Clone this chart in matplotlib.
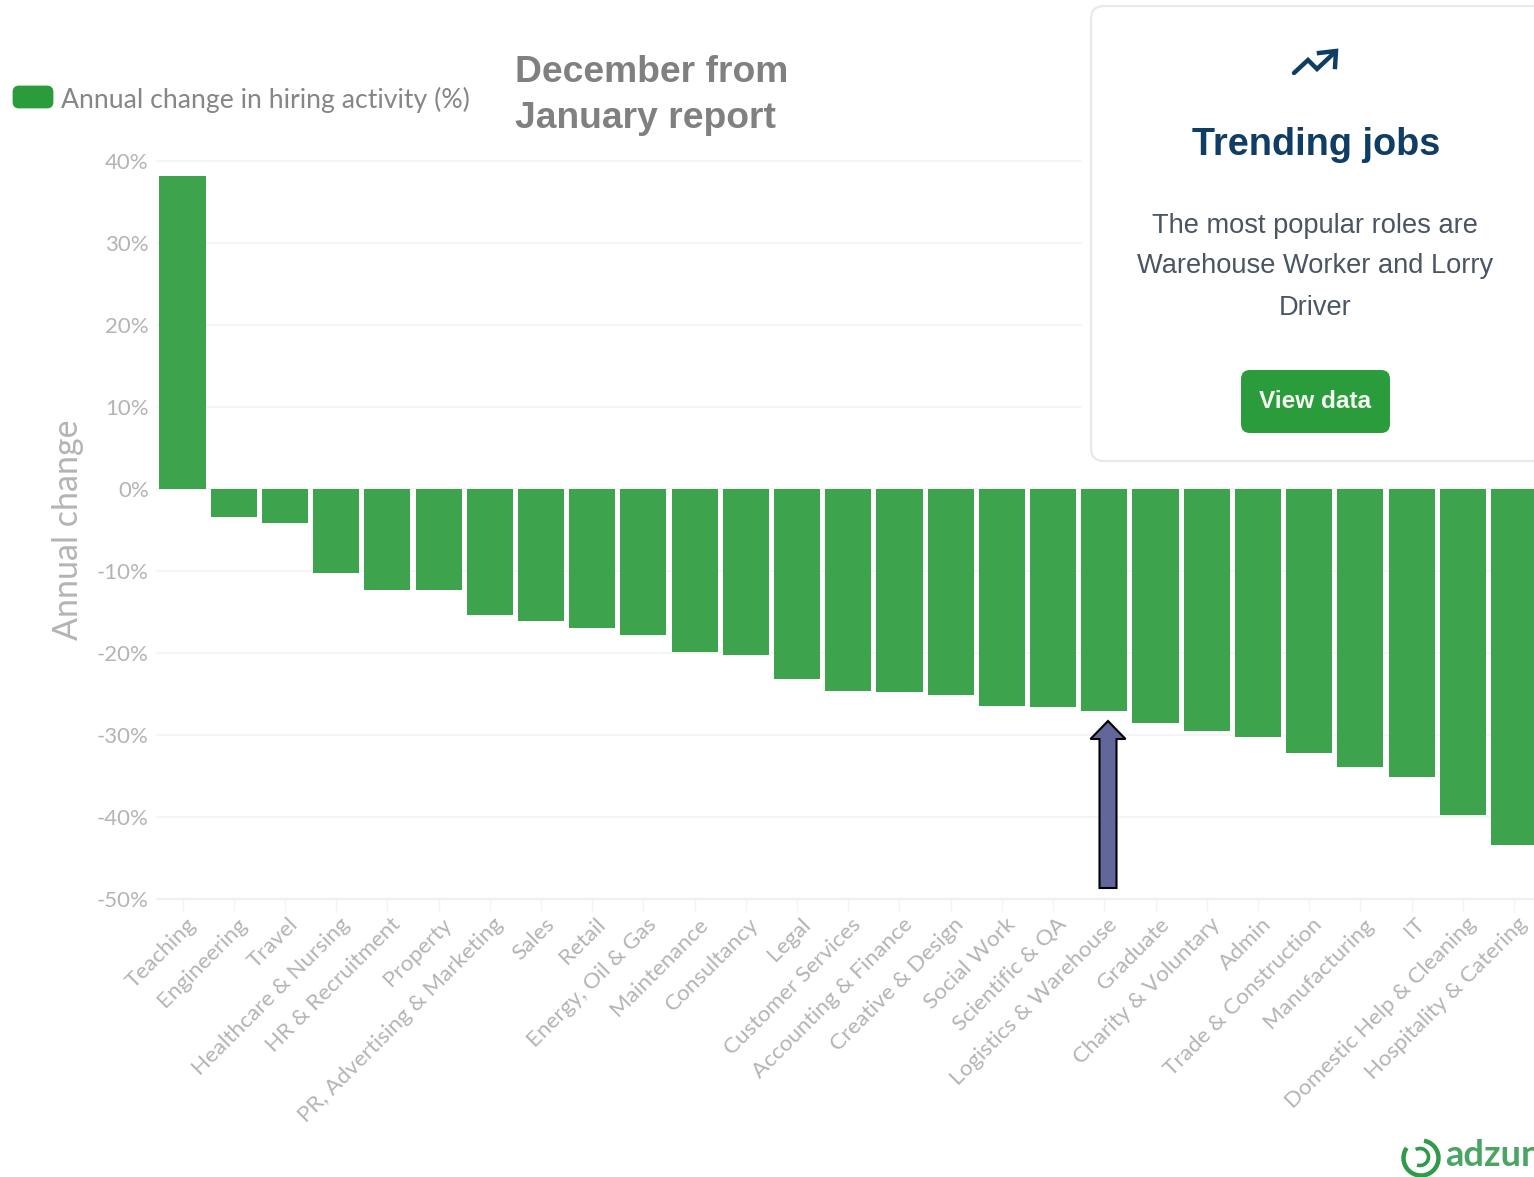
"""Annual change in hiring activity by job category."""

import matplotlib

matplotlib.use("Agg")
import matplotlib.pyplot as plt
from matplotlib.patches import FancyArrow, FancyBboxPatch, Rectangle, Arc
from matplotlib.transforms import ScaledTranslation

WIDTH = 1534
HEIGHT = 1177

categories = [
    "Teaching", "Engineering", "Travel", "Healthcare & Nursing", "HR & Recruitment",
    "Property", "PR, Advertising & Marketing", "Sales", "Retail", "Energy, Oil & Gas",
    "Maintenance", "Consultancy", "Legal", "Customer Services", "Accounting & Finance",
    "Creative & Design", "Social Work", "Scientific & QA", "Logistics & Warehouse",
    "Graduate", "Charity & Voluntary", "Admin", "Trade & Construction", "Manufacturing",
    "IT", "Domestic Help & Cleaning", "Hospitality & Catering",
]
changes = [
    38.2, -3.4, -4.15, -10.2, -12.3, -12.3, -15.4, -16.1, -17.0, -17.8,
    -19.9, -20.2, -23.2, -24.6, -24.7, -25.1, -26.5, -26.6, -27.1,
    -28.5, -29.5, -30.2, -32.2, -33.9, -35.1, -39.8, -43.4,
]
y_ticks = [40, 30, 20, 10, 0, -10, -20, -30, -40, -50]

GREEN = "#3da44d"
BUTTON_GREEN = "#2a9c3c"
NAVY = "#0f3d63"
TICK_GREY = "#b4b4b4"
ARIAL = "Liberation Sans"

plt.rcParams["font.family"] = ["Lato", "DejaVu Sans"]

fig = plt.figure(figsize=(WIDTH / 100, HEIGHT / 100), dpi=100)

# chart area, placed from the pixel positions of the plot frame
ax = fig.add_axes([157 / WIDTH, 1 - 899 / HEIGHT, (WIDTH - 157) / WIDTH, 738 / HEIGHT])
x_pos = list(range(len(categories)))
ax.bar(x_pos, changes, width=0.9, color=GREEN, zorder=2)
ax.set_xlim(-0.498, 26.39)
ax.set_ylim(-50, 40)
ax.set_yticks(y_ticks)
ax.set_yticklabels([f"{t}%" for t in y_ticks], color=TICK_GREY, fontsize=16)
ax.set_xticks(x_pos)
ax.set_xticklabels(
    categories, rotation=45, ha="right", rotation_mode="anchor",
    color=TICK_GREY, fontsize=16.2,
)
ax.tick_params(axis="y", length=0, pad=6)
ax.tick_params(axis="x", length=9, width=1, color="#f3f3f3", pad=2)
ax.grid(axis="y", color="#f5f5f5", linewidth=1.5, zorder=0, clip_on=False)
for side in ["top", "right", "left"]:
    ax.spines[side].set_visible(False)
ax.spines["bottom"].set_color("#efefef")
ax.spines["bottom"].set_linewidth(1.5)
ax.set_axisbelow(True)
nudge = ScaledTranslation(3 / 100, 0, fig.dpi_scale_trans)
for label in ax.get_xticklabels():
    label.set_transform(label.get_transform() + nudge)

# overlay in image pixels for the card, legend and other screenshot furniture
over = fig.add_axes([0, 0, 1, 1], facecolor="none")
over.set_xlim(0, WIDTH)
over.set_ylim(HEIGHT, 0)
over.axis("off")

over.text(68, 530, "Annual change", rotation=90, ha="center", va="center",
          color="#b4b4b4", fontsize=24.5)

over.add_patch(FancyBboxPatch((14, 87), 38, 20, boxstyle="round,pad=0,rounding_size=5",
                              facecolor=BUTTON_GREEN, edgecolor=BUTTON_GREEN, linewidth=2))
over.text(61, 100, "Annual change in hiring activity (%)", ha="left", va="center",
          color="#868686", fontsize=19.2)

over.text(515, 73, "December from", ha="left", va="center", color="#808080",
          fontsize=26.8, fontweight="bold", family=ARIAL)
over.text(515, 118, "January report", ha="left", va="center", color="#808080",
          fontsize=26.8, fontweight="bold", family=ARIAL)

# card hides the upper gridlines on the right
over.add_patch(Rectangle((1082, 0), WIDTH - 1082, 470, facecolor="white", edgecolor="none"))
over.add_patch(FancyBboxPatch((1091, 6), 500, 455, boxstyle="round,pad=0,rounding_size=13",
                              facecolor="white", edgecolor="#e8e8e8", linewidth=1.6))
over.plot([1294, 1308, 1317, 1334], [73, 60, 69, 53], color=NAVY, linewidth=3.2,
          solid_capstyle="round", solid_joinstyle="miter")
over.plot([1319, 1336, 1335], [53, 51, 67], color=NAVY, linewidth=3.2, solid_joinstyle="miter")
over.text(1316, 145, "Trending jobs", ha="center", va="center", color=NAVY,
          fontsize=27.3, fontweight="bold", family=ARIAL)
for y, line in zip([226, 266, 308], ["The most popular roles are",
                                     "Warehouse Worker and Lorry", "Driver"]):
    over.text(1315, y, line, ha="center", va="center", color="#4a5563",
              fontsize=19.6, family=ARIAL)
over.add_patch(FancyBboxPatch((1241, 370), 149, 63, boxstyle="round,pad=0,rounding_size=9",
                              facecolor=BUTTON_GREEN, edgecolor="none"))
over.text(1315, 402, "View data", ha="center", va="center", color="#f4fbf0",
          fontsize=17.6, fontweight="bold", family=ARIAL)

# arrow pointing at Logistics & Warehouse
over.add_patch(FancyArrow(1108, 888, 0, -167, width=17, head_width=35, head_length=18,
                          length_includes_head=True, facecolor="#62669b",
                          edgecolor="black", linewidth=1.5))

# adzuna logo, cut off by the image edge
over.add_patch(Arc((1421, 1158), 35, 35, theta1=-80, theta2=215, edgecolor="#2f9a4a", linewidth=3.2))
over.add_patch(Arc((1420, 1157), 17, 17, theta1=-120, theta2=110, edgecolor="#2f9a4a", linewidth=2.6))
over.text(1445, 1156, "adzun", ha="left", va="center", color="#4aa463",
          fontsize=26, family="Lato", fontweight="bold", clip_on=True)

fig.savefig("out.png", dpi=100)
